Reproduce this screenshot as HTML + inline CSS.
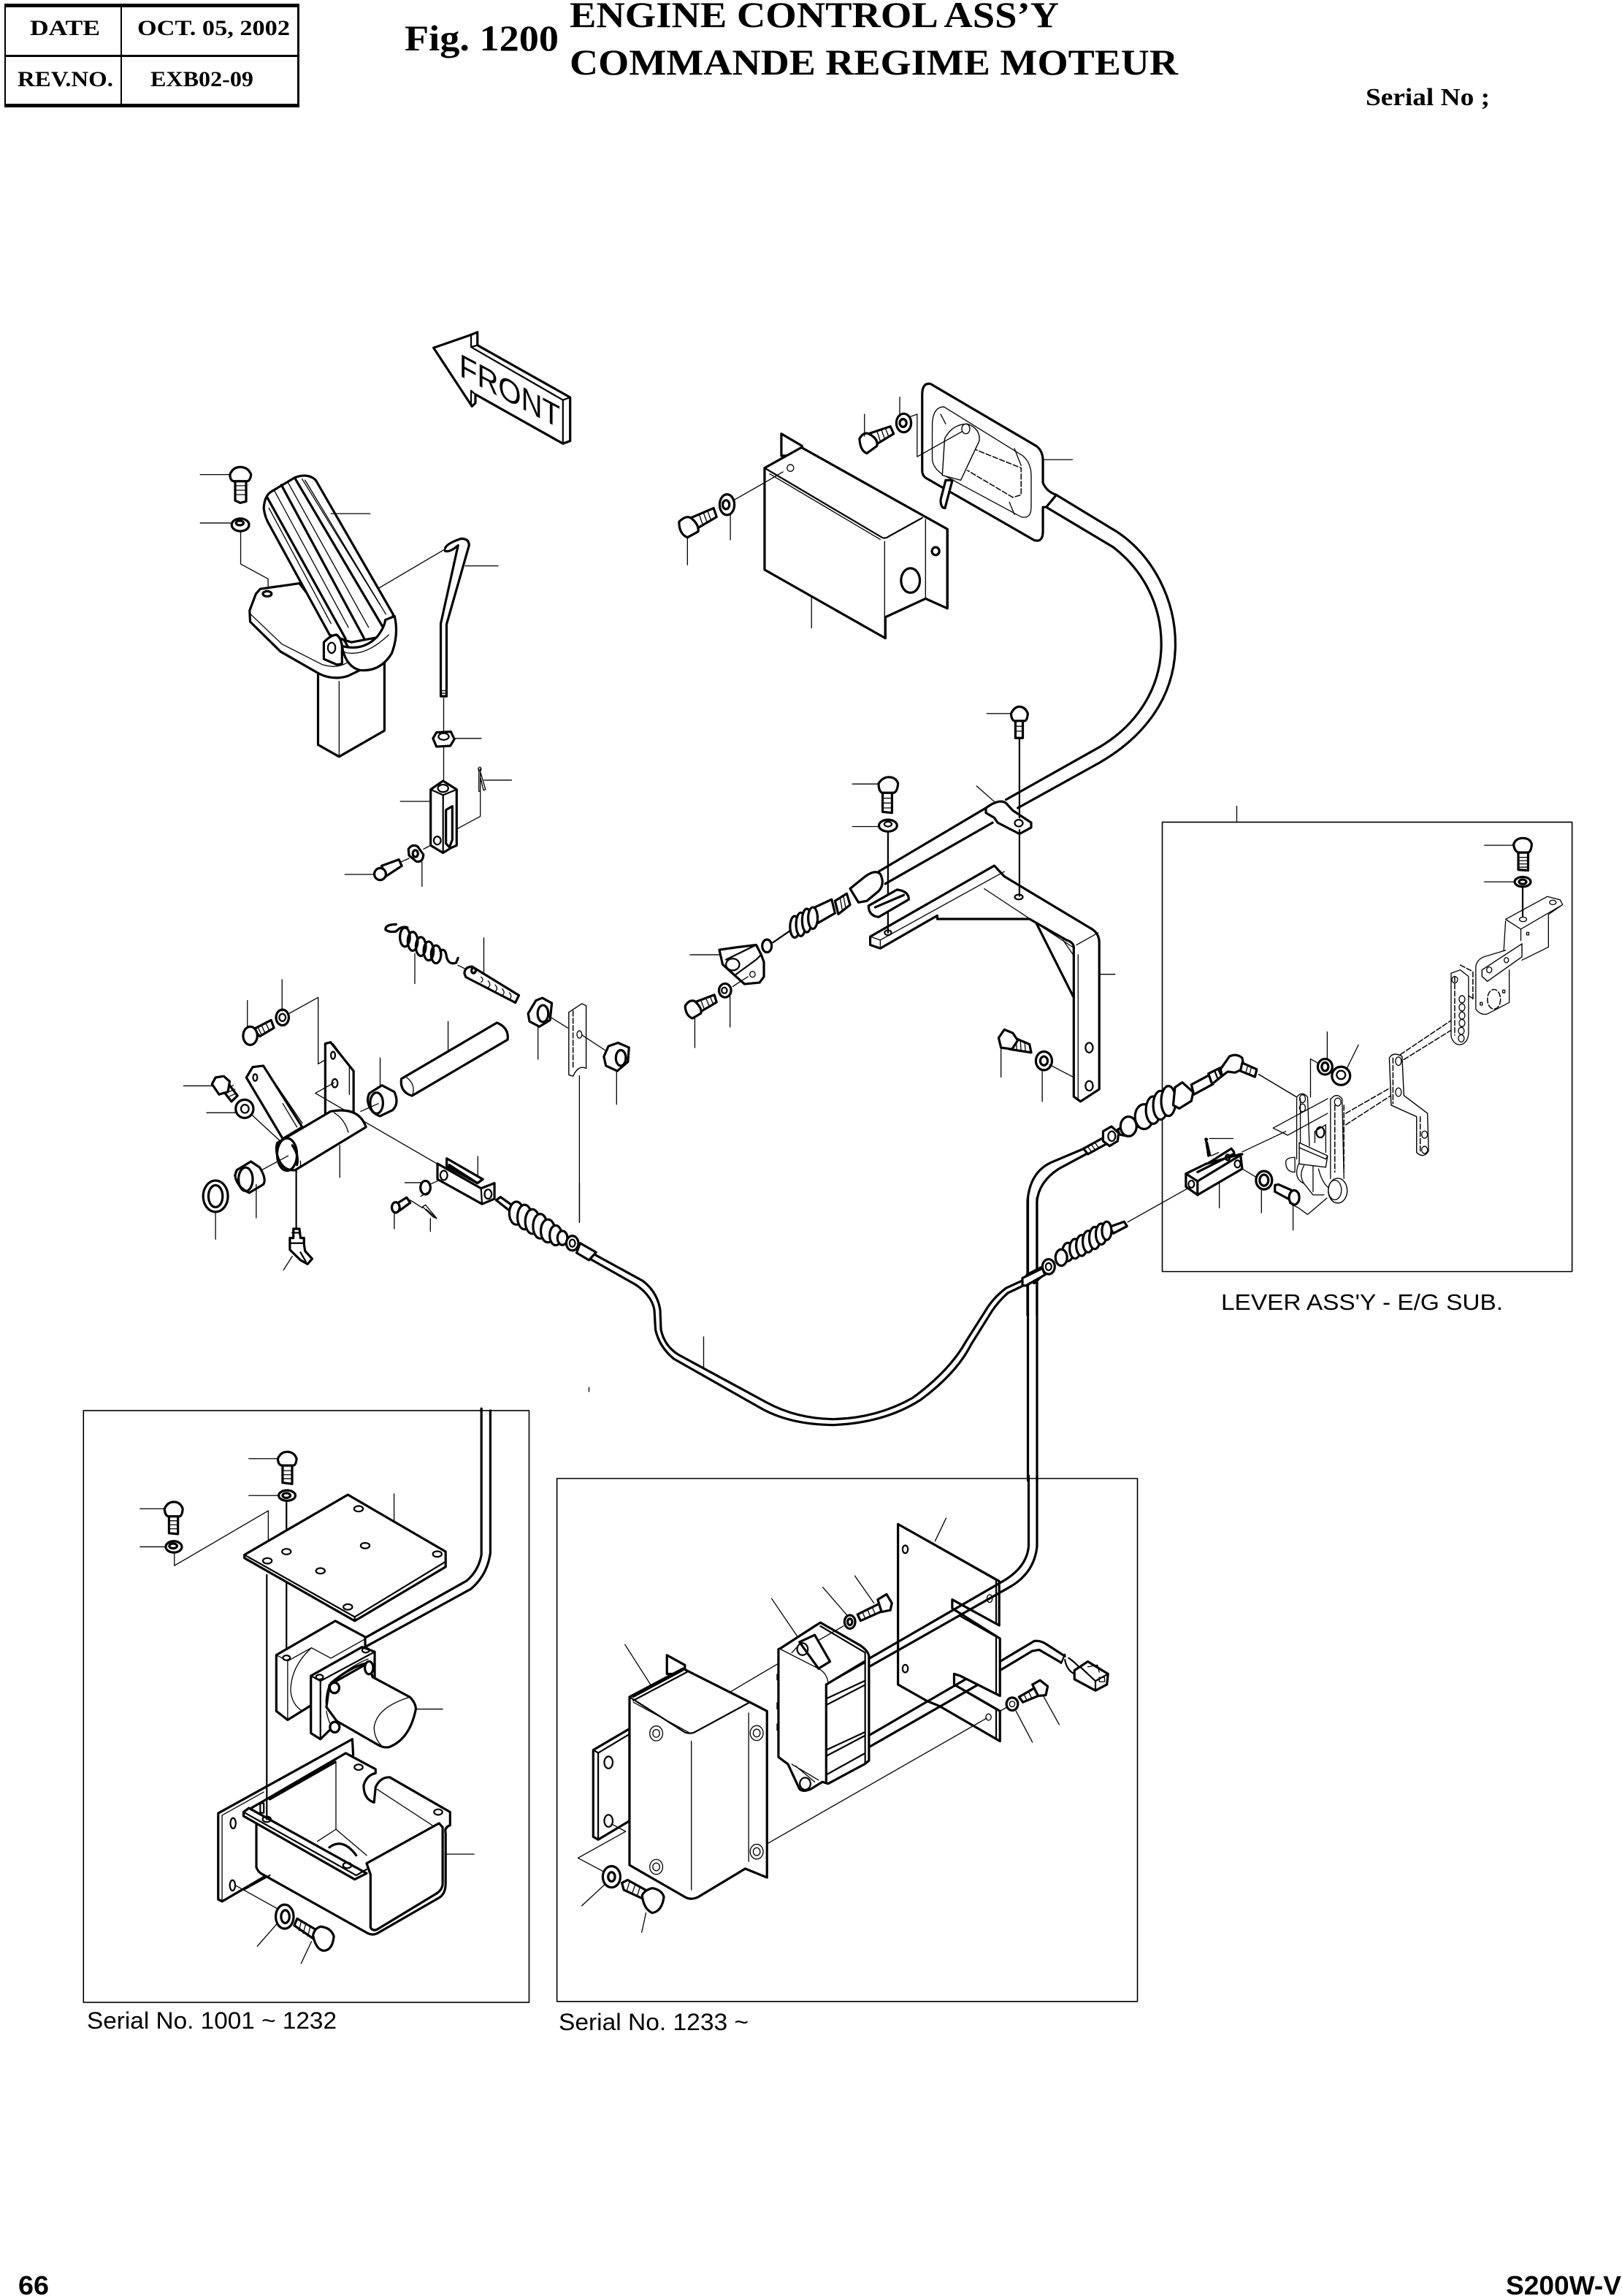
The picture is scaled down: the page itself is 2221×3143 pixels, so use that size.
<!DOCTYPE html>
<html><head><meta charset="utf-8"><title>Fig. 1200 Engine Control Ass'y</title>
<style>
html,body{margin:0;padding:0;background:#fff}
svg{display:block}
svg *{vector-effect:non-scaling-stroke}
path,line,ellipse,rect,polyline,polygon{stroke:#000;fill:none;stroke-linejoin:round;stroke-linecap:round}
.a{fill:#fff;stroke-width:3.2}
.b{stroke-width:3.2}
.m{stroke-width:2.2}
.t{stroke-width:1.3}
.w{fill:#fff;stroke-width:1.4}
.k{fill:#000;stroke:none}
.d{stroke-width:1.5;stroke-dasharray:7 3}
text{fill:#000}
.s{font-family:"Liberation Serif",serif;font-weight:bold}
.n{font-family:"Liberation Sans",sans-serif}
</style></head><body>
<svg xmlns="http://www.w3.org/2000/svg" width="2221" height="3143" viewBox="0 0 2221 3143">
<rect x="0" y="0" width="2221" height="3143" style="fill:#fff;stroke:none"/>

<!-- header table -->
<rect class="k" x="6" y="5" width="404" height="5"/>
<rect class="k" x="6" y="142" width="404" height="5"/>
<rect class="k" x="6" y="75" width="404" height="3"/>
<rect class="k" x="6" y="5" width="2" height="142"/>
<rect class="k" x="407" y="5" width="3" height="142"/>
<rect class="k" x="165" y="5" width="2" height="142"/>
<text class="s" x="41" y="48" font-size="30" textLength="96" lengthAdjust="spacingAndGlyphs">DATE</text>
<text class="s" x="188" y="48" font-size="30" textLength="209" lengthAdjust="spacingAndGlyphs">OCT. 05, 2002</text>
<text class="s" x="24" y="118" font-size="30" textLength="131" lengthAdjust="spacingAndGlyphs">REV.NO.</text>
<text class="s" x="206" y="118" font-size="30" textLength="141" lengthAdjust="spacingAndGlyphs">EXB02-09</text>
<text class="s" x="554" y="69" font-size="50" textLength="211" lengthAdjust="spacingAndGlyphs">Fig. 1200</text>
<text class="s" x="780" y="37" font-size="50" textLength="670" lengthAdjust="spacingAndGlyphs">ENGINE CONTROL ASS’Y</text>
<text class="s" x="780" y="102" font-size="50" textLength="833" lengthAdjust="spacingAndGlyphs">COMMANDE REGIME MOTEUR</text>
<text class="s" x="1870" y="144" font-size="34" textLength="170" lengthAdjust="spacingAndGlyphs">Serial No ;</text>
<text class="n" font-weight="bold" x="25" y="3141" font-size="36" textLength="42" lengthAdjust="spacingAndGlyphs">66</text>
<text class="n" font-weight="bold" x="2062" y="3141" font-size="36" textLength="158" lengthAdjust="spacingAndGlyphs">S200W-V</text>

<!-- Z9: long lower cable -->
<g transform="translate(780,1620) scale(.5,.33333)">
<path class="b" d="M60,285 L200,400 Q240,445 248,520 L250,600 Q260,670 300,705 L540,900 Q620,965 720,968 Q840,965 940,880 Q1040,770 1085,650 L1140,520 Q1160,470 1195,430 L1260,385"/>
<path class="b" d="M50,305 L180,415 Q225,460 232,520 L235,600 Q245,670 285,720 L520,920 Q600,990 720,992 Q860,985 960,890 Q1060,780 1100,660 L1150,540 Q1170,490 1200,450 L1270,400"/>
<line class="t" x1="367" y1="630" x2="367" y2="755"/>
<line class="t" x1="27" y1="0" x2="27" y2="160"/>
<line class="t" x1="53" y1="838" x2="53" y2="855"/>
<line class="b" x1="1255" y1="60" x2="1255" y2="1220"/>
<line class="b" x1="1280" y1="60" x2="1280" y2="1220"/>
<path class="a" d="M1252,375 L1290,345 L1305,365 L1272,410 Z"/>
</g>

<!-- Z2: pedal group -->
<g transform="translate(220,420) scale(.39541,.51020)">
<!-- FRONT arrow -->
<path class="a" d="M945,110 L1075,75 L1097,68 L1097,103 L1418,243 L1418,360 L1393,367 L1090,235 L1090,258 L1078,267 Z"/>
<path class="m" d="M1075,75 L1075,108 L1393,250 L1393,365 M1075,108 L1097,103 M1393,250 L1418,243 M1075,225 L1075,265 M1075,225 L1090,235"/>
<!-- bolt + washer -->
<line class="t" x1="137" y1="450" x2="240" y2="450"/>
<path class="a" d="M258,465 L258,520 L276,526 L296,522 L296,465 Z"/>
<path class="t" d="M258,480 L296,480 M258,492 L296,492 M258,504 L296,504"/>
<path class="a" d="M240,450 Q250,430 275,430 Q303,430 313,450 Q310,468 298,468 L252,468 Q240,465 240,450 Z"/>
<line class="t" x1="137" y1="580" x2="245" y2="580"/>
<ellipse class="a" cx="276" cy="585" rx="30" ry="17"/>
<ellipse class="b" cx="274" cy="580" rx="13" ry="6"/>
<path class="t" d="M277,605 L277,690 L372,730 L372,770"/>
<!-- leg -->
<path class="a" d="M545,975 L545,1175 L618,1207 L775,1137 L775,950 Z"/>
<line class="t" x1="618" y1="1005" x2="618" y2="1207"/>
<!-- base plate -->
<path class="a" d="M480,742 L345,757 L330,770 L308,815 L310,845 L415,925 L550,985 Q600,1003 650,990 L690,975 L640,900 Z"/>
<path class="t" d="M312,825 L420,905 L560,960 Q610,972 645,955"/>
<ellipse class="b" cx="369" cy="770" rx="15" ry="7"/>
<!-- pedal -->
<path class="a" d="M357,540 Q360,505 385,495 L465,458 Q510,445 537,465 L805,825 L800,880 L660,900 L585,880 L380,590 Q360,565 357,540 Z"/>
<path class="b" d="M368,510 L640,890 M418,478 L705,890 M465,460 L770,860"/>
<path class="t" d="M395,495 L650,860 M440,470 L720,860 M500,465 L780,825 M375,540 L590,850 M490,462 L760,800"/>
<path class="a" d="M810,830 Q825,880 800,930 Q760,980 690,975 Q640,965 628,910 Q700,925 750,885 Q775,860 778,840 Z"/>
<path class="t" d="M630,925 Q700,945 790,880"/>
<path class="a" d="M565,900 Q590,880 610,880 Q625,890 628,910 L628,958 L610,960 L565,945 Z"/>
<ellipse class="m" cx="592" cy="915" rx="13" ry="14"/>
<line class="t" x1="590" y1="555" x2="725" y2="555"/>
<!-- rod -->
<line class="t" x1="755" y1="755" x2="985" y2="650"/>
<path class="b" d="M985,648 Q990,635 1040,622 Q1068,622 1068,640 L990,852 L990,1045 M985,655 Q1000,660 1030,640 L970,850 L970,1045 L990,1045"/>
<path class="t" d="M970,1030 L990,1030 M970,1037 L990,1037"/>
<line class="t" x1="1055" y1="695" x2="1168" y2="695"/>
<line class="t" x1="980" y1="1050" x2="980" y2="1140"/>
<path class="a" d="M943,1158 L955,1142 L1005,1140 L1017,1160 L1003,1178 L955,1180 Z"/>
<ellipse class="m" cx="980" cy="1153" rx="18" ry="9"/>
<line class="t" x1="1015" y1="1158" x2="1110" y2="1158"/>
<line class="t" x1="980" y1="1180" x2="980" y2="1275"/>
<!-- clevis -->
<path class="a" d="M935,1295 L978,1272 L1025,1295 L1025,1445 L1005,1452 L978,1465 L935,1445 Z"/>
<path class="m" d="M935,1295 L978,1310 L1025,1295 M978,1310 L978,1465"/>
<path class="b" d="M988,1350 L1010,1340 L1010,1430 L1000,1450 L988,1440 Z"/>
<ellipse class="m" cx="978" cy="1292" rx="18" ry="10"/>
<ellipse class="m" cx="958" cy="1432" rx="12" ry="11"/>
<line class="t" x1="830" y1="1327" x2="935" y2="1327"/>
<path class="t" d="M1102,1240 L1102,1300 L1107,1300 L1107,1240 M1106,1245 L1125,1295 L1118,1297 L1108,1265 M1120,1270 L1215,1270 M1107,1300 L1107,1367 L1028,1400"/>
<ellipse class="t" cx="1105" cy="1240" rx="5" ry="5"/>
<line class="t" x1="935" y1="1445" x2="910" y2="1455"/>
<path class="a" d="M858,1455 Q870,1440 890,1448 L910,1470 Q908,1492 885,1488 L860,1472 Z"/>
<ellipse class="b" cx="882" cy="1467" rx="9" ry="9"/>
<line class="t" x1="905" y1="1490" x2="905" y2="1555"/>
<line class="t" x1="830" y1="1490" x2="860" y2="1480"/>
<path class="a" d="M765,1500 L825,1483 L835,1500 L780,1528 Z"/>
<ellipse class="a" cx="760" cy="1522" rx="20" ry="16"/>
<line class="t" x1="638" y1="1523" x2="740" y2="1523"/>
</g>

<!-- Z3: lower left pivot group -->
<g transform="translate(220,1200) scale(.48469,.35714)">
<!-- spring -->
<path class="b" d="M665,183 Q635,183 635,203 Q645,215 665,210 Q680,188 697,195"/>
<ellipse class="b" cx="690" cy="232" rx="14" ry="36"/>
<ellipse class="b" cx="712" cy="248" rx="14" ry="36"/>
<ellipse class="b" cx="735" cy="268" rx="14" ry="36"/>
<ellipse class="b" cx="757" cy="285" rx="14" ry="36"/>
<ellipse class="b" cx="778" cy="298" rx="14" ry="34"/>
<path class="b" d="M790,285 Q805,270 808,310 Q815,340 835,330 L840,312"/>
<line class="t" x1="718" y1="295" x2="718" y2="410"/>
<line class="t" x1="840" y1="340" x2="858" y2="352"/>
<!-- threaded rod -->
<path class="a" d="M858,370 Q860,345 880,345 L1012,455 L1002,483 L862,385 Z"/>
<ellipse class="b" cx="884" cy="360" rx="6" ry="10"/>
<path class="t" d="M905,385 Q915,395 905,405 M925,400 Q935,415 925,425 M945,415 Q955,430 945,440 M965,430 Q975,445 965,455 M985,445 Q995,460 985,470"/>
<line class="t" x1="913" y1="235" x2="913" y2="375"/>
<!-- nut 1 -->
<path class="a" d="M1038,525 L1060,475 L1078,465 L1105,485 L1100,550 L1070,575 L1042,555 Z"/>
<ellipse class="b" cx="1080" cy="525" rx="15" ry="32"/>
<line class="t" x1="1066" y1="578" x2="1066" y2="700"/>
<line class="t" x1="1097" y1="535" x2="1150" y2="580"/>
<!-- link strip -->
<path class="w" d="M1153,520 L1190,487 L1202,495 L1202,735 Q1180,720 1165,765 L1153,760 Z"/>
<line class="d" x1="1165" y1="515" x2="1165" y2="730" style="fill:none"/>
<ellipse class="t" cx="1183" cy="605" rx="7" ry="14"/>
<line class="t" x1="1190" y1="607" x2="1255" y2="665"/>
<!-- nut 2 -->
<path class="a" d="M1252,690 L1265,650 L1292,637 L1323,655 L1320,710 L1290,745 L1258,725 Z"/>
<ellipse class="b" cx="1300" cy="695" rx="14" ry="30"/>
<line class="t" x1="1288" y1="745" x2="1288" y2="873"/>
<line class="t" x1="1183" y1="763" x2="1183" y2="1325"/>
<!-- long pipe -->
<path class="a" d="M680,775 L950,560 Q985,580 980,625 L710,840 Q675,825 680,775 Z"/>
<path class="t" d="M695,770 Q720,795 712,835"/>
<line class="t" x1="812" y1="555" x2="812" y2="670"/>
<!-- bush -->
<path class="a" d="M590,830 L625,800 L660,825 Q675,870 655,895 L620,918 Q590,905 585,860 Q585,840 590,830 Z"/>
<ellipse class="b" cx="610" cy="868" rx="18" ry="40"/>
<line class="t" x1="620" y1="695" x2="620" y2="800"/>
<!-- bolt top -->
<line class="t" x1="245" y1="475" x2="245" y2="575"/>
<path class="a" d="M262,585 L312,550 L320,580 L280,612 Z"/>
<path class="t" d="M285,570 L295,600 M297,562 L307,590 M275,578 L285,606"/>
<ellipse class="a" cx="253" cy="610" rx="20" ry="35"/>
<ellipse class="a" cx="344" cy="540" rx="18" ry="30"/>
<ellipse class="m" cx="344" cy="540" rx="9" ry="14"/>
<line class="t" x1="343" y1="395" x2="343" y2="515"/>
<path class="t" d="M360,527 L445,463 L445,718 L480,690"/>
<!-- plate -->
<path class="a" d="M465,640 L480,635 L545,745 L545,965 L533,985 L533,900 L465,910 Z"/>
<path class="t" d="M487,640 L533,725 L533,835"/>
<ellipse class="m" cx="487" cy="685" rx="6" ry="14"/>
<ellipse class="m" cx="492" cy="792" rx="8" ry="16"/>
<path class="t" d="M437,830 L490,790 M437,830 L780,1100"/>
<!-- arm -->
<path class="a" d="M345,1005 L242,770 L260,730 L290,725 L400,960 Z"/>
<path class="t" d="M300,745 L400,945 M345,870 L385,960"/>
<ellipse class="m" cx="267" cy="770" rx="6" ry="13"/>
<!-- tube body -->
<path class="a" d="M330,1020 L480,900 Q560,880 580,960 L380,1125 Q340,1130 328,1060 Q325,1035 330,1020 Z"/>
<ellipse class="b" cx="357" cy="1065" rx="28" ry="62"/>
<path class="t" d="M490,905 Q520,930 530,980"/>
<path class="b" d="M372,1030 Q392,1070 385,1105" />
<line class="t" x1="506" y1="1030" x2="506" y2="1153"/>
<line class="t" x1="395" y1="1090" x2="395" y2="1115"/>
<path class="t" d="M360,1070 L285,1125 M565,900 L615,870"/>
<!-- bolt left -->
<line class="t" x1="65" y1="802" x2="145" y2="802"/>
<path class="a" d="M170,810 L195,800 L217,840 L200,862 Z"/>
<path class="t" d="M180,815 L205,800 M188,828 L210,815 M195,842 L215,830"/>
<path class="a" d="M145,795 L155,770 L178,765 L195,785 L190,825 L165,835 Z"/>
<line class="t" x1="130" y1="905" x2="215" y2="905"/>
<ellipse class="a" cx="237" cy="890" rx="25" ry="35"/>
<ellipse class="m" cx="238" cy="890" rx="11" ry="16"/>
<line class="t" x1="255" y1="910" x2="335" y2="1010"/>
<!-- lower bush -->
<path class="a" d="M215,1125 L255,1092 L280,1115 Q300,1160 290,1180 L250,1212 Q215,1190 210,1145 Z"/>
<ellipse class="b" cx="240" cy="1160" rx="20" ry="45"/>
<line class="t" x1="270" y1="1180" x2="270" y2="1308"/>
<ellipse class="a" cx="155" cy="1225" rx="35" ry="60"/>
<ellipse class="b" cx="155" cy="1225" rx="20" ry="42"/>
<line class="t" x1="155" y1="1285" x2="155" y2="1390"/>
<!-- grease fitting -->
<line class="m" x1="383" y1="1125" x2="383" y2="1345"/>
<path class="a" d="M375,1350 L392,1350 L395,1385 L405,1385 L405,1410 L408,1435 L428,1465 L415,1485 L395,1470 L365,1430 L365,1385 L375,1385 Z"/>
<path class="m" d="M368,1405 L402,1405 M372,1365 L392,1365 M395,1440 L410,1475"/>
<line class="t" x1="372" y1="1455" x2="347" y2="1508"/>
<!-- yoke -->
<path class="a" d="M808,1080 L910,1160 L895,1175 L808,1110 Z"/>
<path class="a" d="M782,1100 L905,1195 L943,1175 L943,1235 L908,1255 L782,1160 Z"/>
<path class="m" d="M905,1195 L908,1255"/>
<path class="b" d="M815,1105 L895,1175 L910,1160"/>
<ellipse class="m" cx="800" cy="1145" rx="10" ry="18"/>
<ellipse class="m" cx="925" cy="1217" rx="10" ry="18"/>
<line class="t" x1="896" y1="1073" x2="896" y2="1145"/>
<line class="t" x1="690" y1="1173" x2="735" y2="1173"/>
<ellipse class="b" cx="748" cy="1192" rx="14" ry="26"/>
<line class="t" x1="760" y1="1180" x2="785" y2="1165"/>
<path class="t" d="M762,1205 L735,1225 M705,1240 L740,1270"/>
<path class="a" d="M665,1255 L695,1230 L705,1250 L675,1280 Z"/>
<ellipse class="a" cx="664" cy="1268" rx="11" ry="20"/>
<line class="t" x1="660" y1="1285" x2="660" y2="1350"/>
<path class="t" d="M740,1265 L748,1258 L780,1310 L770,1305 Z M750,1275 L775,1305"/>
<line class="t" x1="762" y1="1310" x2="762" y2="1360"/>
<!-- cable boot -->
<path class="a" d="M948,1240 L960,1228 L995,1262 L985,1280 Z"/>
<ellipse class="a" cx="1005" cy="1290" rx="20" ry="44"/>
<ellipse class="a" cx="1028" cy="1305" rx="20" ry="47"/>
<ellipse class="a" cx="1050" cy="1322" rx="20" ry="47"/>
<ellipse class="a" cx="1072" cy="1340" rx="20" ry="47"/>
<ellipse class="a" cx="1094" cy="1358" rx="20" ry="44"/>
<ellipse class="a" cx="1116" cy="1375" rx="17" ry="38"/>
<ellipse class="a" cx="1135" cy="1385" rx="14" ry="27"/>
<ellipse class="a" cx="1163" cy="1405" rx="17" ry="28"/>
<ellipse class="m" cx="1163" cy="1405" rx="8" ry="14"/>
<path class="a" d="M1185,1405 L1230,1440 L1210,1470 L1175,1442 Z"/>
</g>

<!-- Z4: top centre group -->
<g transform="translate(900,500) scale(.45918,.66964)">
<!-- cover -->
<path class="a" d="M370,185 L370,140 L432,165 L432,185 Z"/>
<path class="a" d="M320,210 L430,168 L800,310 L865,335 L865,497 L800,477 L680,515 L680,558 L320,418 Z"/>
<path class="m" d="M320,210 L670,352 Q680,355 690,350 L790,312"/>
<path class="t" d="M335,222 L665,356 M678,360 L678,515 M800,315 L800,475 M335,205 L432,168"/>
<path class="b" d="M680,515 L680,558 M865,335 L865,497"/>
<ellipse class="b" cx="755" cy="440" rx="28" ry="25"/>
<ellipse class="b" cx="830" cy="380" rx="11" ry="8"/>
<ellipse class="t" cx="397" cy="210" rx="10" ry="7"/>
<line class="t" x1="230" y1="275" x2="320" y2="240"/>
<line class="t" x1="320" y1="240" x2="375" y2="218"/>
<ellipse class="a" cx="208" cy="285" rx="22" ry="21"/>
<ellipse class="b" cx="205" cy="285" rx="10" ry="9"/>
<line class="t" x1="218" y1="305" x2="218" y2="357"/>
<path class="a" d="M100,312 L168,292 L177,310 L115,335 Z"/>
<path class="t" d="M125,305 L135,325 M138,302 L148,320 M150,298 L160,316"/>
<path class="a" d="M65,320 Q85,306 100,312 Q125,325 122,340 L90,352 Q65,345 65,320 Z"/>
<line class="t" x1="90" y1="350" x2="90" y2="408"/>
<line class="t" x1="460" y1="475" x2="460" y2="537"/>
<!-- cable big -->
<path class="b" d="M1160,290 L1360,372 C1450,420 1503,490 1503,570 C1503,660 1430,735 1320,780 L1040,888"/>
<path class="b" d="M1190,265 L1370,340 C1480,390 1545,480 1545,570 C1545,680 1450,760 1320,812 L1075,905"/>
<path class="b" d="M980,905 L660,1035 M1000,935 L680,1060"/>
<!-- top plate -->
<path class="a" d="M790,60 Q790,35 815,38 L1130,165 Q1150,175 1150,195 L1150,240 Q1160,258 1190,265 L1160,290 L1150,290 L1150,340 Q1150,362 1125,358 L800,230 Q790,225 790,215 Z"/>
<path class="t" d="M820,125 Q820,85 855,85 L1090,185 Q1115,200 1115,225 L1115,290 Q1115,315 1085,310 L855,225 Q820,210 820,190 Z"/>
<path class="d" d="M940,170 L1085,210 L1085,265 L1060,270 L925,215"/>
<path class="w" d="M857,150 Q880,120 925,120 Q965,130 960,155 L905,235 L850,225 Z"/>
<path class="a" d="M860,235 L845,275 Q845,292 858,292 L880,235 Z"/>
<ellipse class="t" cx="920" cy="130" rx="12" ry="10"/>
<path class="t" d="M845,100 L860,120 M1065,170 L1085,205 M1050,280 L1065,305"/>
<path class="a" d="M630,140 L695,125 L705,140 L645,165 Z"/>
<path class="t" d="M655,134 L665,155 M668,131 L678,150 M680,128 L690,146"/>
<path class="a" d="M603,150 Q615,136 630,140 Q660,150 655,165 L625,180 Q605,175 603,150 Z"/>
<line class="t" x1="618" y1="100" x2="618" y2="145"/>
<ellipse class="a" cx="735" cy="118" rx="22" ry="19"/>
<ellipse class="b" cx="733" cy="118" rx="10" ry="8"/>
<line class="t" x1="723" y1="65" x2="723" y2="100"/>
<path class="t" d="M755,105 L775,100 L775,187 L910,135"/>
<line class="t" x1="1150" y1="193" x2="1238" y2="193"/>
<!-- big bracket -->
<path class="a" d="M635,1168 L1005,1023 L1035,1045 L1290,1150 Q1318,1160 1318,1180 L1318,1480 L1262,1505 L1242,1495 L1242,1190 Q1242,1180 1220,1175 L1110,1132 L835,1132 L835,1125 L665,1192 L635,1185 Z"/>
<path class="t" d="M635,1168 L665,1175 L1035,1035 M665,1175 L665,1192 M975,1070 L1240,1190 M1255,1205 L1255,1500 M1250,1185 L1315,1160 M1210,1175 L1240,1205"/>
<path class="b" d="M1130,1140 L1240,1290"/>
<ellipse class="m" cx="1288" cy="1395" rx="11" ry="10"/>
<ellipse class="m" cx="1288" cy="1473" rx="11" ry="10"/>
<ellipse class="m" cx="1078" cy="1087" rx="12" ry="5"/>
<ellipse class="m" cx="688" cy="1160" rx="10" ry="5"/>
<line class="t" x1="1318" y1="1245" x2="1365" y2="1245"/>
<!-- clamp -->
<path class="a" d="M980,905 Q1020,885 1040,895 L1060,910 L1115,935 L1115,945 L1080,958 L1015,935 L1005,925 L980,915 Z"/>
<ellipse class="m" cx="1078" cy="936" rx="12" ry="7"/>
<line class="t" x1="952" y1="860" x2="1005" y2="892"/>
<!-- bolts -->
<line class="t" x1="983" y1="712" x2="1055" y2="712"/>
<path class="a" d="M1068,725 L1068,762 L1090,762 L1090,725 Z"/>
<path class="t" d="M1068,738 L1090,738 M1068,748 L1090,748"/>
<path class="a" d="M1055,712 Q1065,698 1080,698 Q1097,698 1105,712 Q1103,727 1095,727 L1065,727 Q1056,725 1055,712 Z"/>
<line class="m" x1="1080" y1="765" x2="1080" y2="925"/>
<line class="m" x1="1080" y1="950" x2="1080" y2="1085"/>
<line class="t" x1="582" y1="856" x2="660" y2="856"/>
<path class="a" d="M672,872 L672,913 L700,915 L700,872 Z"/>
<path class="t" d="M672,885 L700,885 M672,895 L700,895 M672,905 L700,905"/>
<path class="a" d="M660,855 Q672,842 690,842 Q712,842 718,855 Q716,872 705,874 L670,874 Q660,870 660,855 Z"/>
<line class="t" x1="582" y1="943" x2="660" y2="943"/>
<ellipse class="a" cx="688" cy="941" rx="27" ry="12"/>
<ellipse class="m" cx="688" cy="938" rx="11" ry="5"/>
<line class="m" x1="688" y1="955" x2="688" y2="1160"/>
<!-- connector -->
<path class="a" d="M630,1105 L715,1072 Q750,1075 750,1092 L660,1128 Q630,1125 630,1105 Z"/>
<path class="b" d="M650,1108 L735,1083"/>
<path class="a" d="M575,1070 L620,1045 Q650,1030 665,1040 Q680,1060 660,1075 L625,1095 L600,1098 Z"/>
<path class="a" d="M530,1095 L565,1080 L575,1103 L540,1122 Z"/>
<path class="t" d="M545,1088 L552,1115 M555,1084 L562,1110"/>
<path class="a" d="M470,1108 L520,1092 L530,1120 L480,1140 Z"/>
<ellipse class="a" cx="410" cy="1148" rx="14" ry="22"/>
<ellipse class="a" cx="428" cy="1143" rx="14" ry="24"/>
<ellipse class="a" cx="446" cy="1135" rx="14" ry="24"/>
<ellipse class="a" cx="464" cy="1130" rx="14" ry="22"/>
<path class="m" d="M345,1180 L398,1155"/>
<ellipse class="a" cx="327" cy="1187" rx="14" ry="13"/>
<!-- small bracket -->
<path class="a" d="M185,1195 L235,1190 L295,1185 L310,1205 L318,1220 L318,1250 L305,1262 L260,1265 L195,1225 Z"/>
<path class="m" d="M205,1215 L295,1185 M235,1245 L295,1215 L310,1205"/>
<ellipse class="m" cx="225" cy="1225" rx="20" ry="12"/>
<ellipse class="t" cx="284" cy="1245" rx="8" ry="6"/>
<line class="t" x1="98" y1="1205" x2="185" y2="1205"/>
<ellipse class="a" cx="202" cy="1278" rx="18" ry="14"/>
<ellipse class="m" cx="200" cy="1278" rx="8" ry="6"/>
<line class="t" x1="217" y1="1290" x2="217" y2="1353"/>
<line class="t" x1="225" y1="1270" x2="270" y2="1250"/>
<path class="a" d="M112,1302 L170,1287 L177,1302 L128,1322 Z"/>
<path class="t" d="M130,1298 L140,1316 M145,1294 L155,1310 M157,1290 L167,1306"/>
<path class="a" d="M83,1310 Q95,1296 112,1300 Q135,1315 130,1325 L105,1335 Q85,1330 83,1310 Z"/>
<line class="t" x1="112" y1="1335" x2="112" y2="1395"/>
<!-- bottom bolt -->
<path class="a" d="M1055,1372 L1110,1388 L1115,1405 L1050,1398 Z"/>
<path class="t" d="M1070,1378 L1072,1400 M1083,1382 L1085,1402 M1096,1385 L1098,1403"/>
<path class="a" d="M1018,1375 L1035,1358 L1060,1365 L1075,1380 L1058,1398 L1025,1395 Z"/>
<line class="t" x1="1025" y1="1395" x2="1025" y2="1455"/>
<ellipse class="a" cx="1153" cy="1422" rx="24" ry="19"/>
<ellipse class="b" cx="1153" cy="1422" rx="11" ry="9"/>
<line class="t" x1="1148" y1="1440" x2="1148" y2="1505"/>
<line class="t" x1="1170" y1="1430" x2="1240" y2="1455"/>
</g>

<!-- Z5: lever assembly -->
<g transform="translate(1400,1100) scale(.49745,.44643)">
<rect x="385" y="57" width="1128" height="1378" class="t" style="stroke-width:1.6"/>
<line class="t" x1="590" y1="8" x2="590" y2="57"/>
<!-- top bracket dashed -->
<path class="t" d="M1330,355 L1445,285 L1480,295 L1487,310 L1448,340 L1448,440 L1375,480 M1330,355 L1372,385 L1487,310 M1372,385 L1372,420 M1330,360 L1325,450"/>
<ellipse class="t" cx="1378" cy="355" rx="10" ry="7"/>
<ellipse class="t" cx="1460" cy="303" rx="9" ry="7"/>
<rect class="t" x="1388" y="395" width="6" height="8"/>
<path class="t" d="M1248,500 Q1250,480 1270,470 L1330,450 M1248,500 L1248,630 Q1260,650 1280,645 L1340,610 L1340,510"/>
<path class="w" d="M1265,510 L1375,430 L1375,470 L1280,545 L1265,530 Z"/>
<ellipse class="t" cx="1285" cy="510" rx="7" ry="9"/>
<ellipse class="t" cx="1332" cy="480" rx="6" ry="8"/>
<ellipse class="d" cx="1298" cy="600" rx="18" ry="30"/>
<rect class="t" x="1322" y="572" width="6" height="8"/>
<rect class="t" x="1260" y="610" width="6" height="8"/>
<path class="d" d="M1205,495 L1240,515 L1240,600"/>
<path class="t" d="M1180,520 L1205,510 L1228,530 L1228,700 Q1228,730 1210,738 Q1190,745 1180,715 Z"/>
<path class="d" d="M1190,530 L1190,710 M1228,590 L1245,600"/>
<ellipse class="t" cx="1190" cy="540" rx="8" ry="10"/>
<ellipse class="t" cx="1210" cy="600" rx="8" ry="11"/>
<ellipse class="t" cx="1210" cy="625" rx="8" ry="11"/>
<ellipse class="t" cx="1210" cy="650" rx="8" ry="11"/>
<ellipse class="t" cx="1210" cy="673" rx="8" ry="11"/>
<ellipse class="t" cx="1208" cy="697" rx="8" ry="11"/>
<ellipse class="t" cx="1208" cy="720" rx="8" ry="11"/>
<path class="d" d="M1040,770 L1180,665 M1050,785 L1180,695 M890,950 L1015,870 M890,985 L1015,895"/>
<path class="w" d="M1010,780 Q1020,760 1045,775 L1050,895 L1115,950 L1118,1065 Q1105,1090 1085,1070 L1085,960 L1015,925 Z"/>
<path class="d" d="M1020,780 L1020,920 M1095,960 L1095,1070"/>
<ellipse class="t" cx="1035" cy="790" rx="8" ry="13"/>
<ellipse class="t" cx="1035" cy="885" rx="8" ry="13"/>
<ellipse class="t" cx="1107" cy="1015" rx="8" ry="11"/>
<ellipse class="t" cx="1107" cy="1062" rx="8" ry="11"/>
<!-- lower frame -->
<path class="t" d="M725,1100 Q725,1085 750,1085 L750,1130 Q725,1130 725,1100 Z"/>
<path class="t" d="M760,1105 Q745,1150 775,1165 L800,1200 L830,1200 M800,1110 L800,1190 M815,1120 Q825,1165 845,1180 M775,1110 Q760,1140 775,1165"/>
<path class="t" d="M760,1240 L785,1260 L838,1210 M735,1225 L760,1240"/>
<path class="w" d="M762,1040 L840,1080 L835,1115 L762,1105 Z"/>
<path class="t" d="M762,1055 L835,1090 L840,1080"/>
<path class="t" d="M755,900 Q770,880 785,900 L790,1050 M755,900 L755,1090 M765,905 L765,1040"/>
<ellipse class="t" cx="771" cy="905" rx="8" ry="12"/>
<ellipse class="t" cx="771" cy="933" rx="8" ry="12"/>
<path class="t" d="M850,905 Q865,885 880,905 L885,1150 M848,905 L848,1150"/>
<path class="d" d="M860,925 L860,1130 M885,925 L885,1130"/>
<ellipse class="t" cx="868" cy="915" rx="9" ry="12"/>
<ellipse class="w" cx="868" cy="1187" rx="26" ry="38"/>
<ellipse class="t" cx="860" cy="1185" rx="18" ry="30"/>
<path class="t" d="M805,1040 L805,1005 L835,985 L835,1070"/>
<ellipse class="m" cx="820" cy="1008" rx="11" ry="16"/>
<path class="t" d="M690,995 L840,905 M690,995 L730,1017 L840,950 M605,1068 L725,1005"/>
<path class="t" d="M650,830 L755,900"/>
<path class="t" d="M793,783 L820,800 M793,783 L793,900"/>
<ellipse class="a" cx="833" cy="807" rx="20" ry="24"/>
<ellipse class="b" cx="833" cy="807" rx="9" ry="13"/>
<ellipse class="a" cx="877" cy="835" rx="25" ry="28"/>
<ellipse class="m" cx="877" cy="832" rx="12" ry="13"/>
<line class="t" x1="839" y1="700" x2="839" y2="785"/>
<line class="t" x1="925" y1="740" x2="893" y2="812"/>
<!-- top bolt -->
<line class="t" x1="1272" y1="128" x2="1352" y2="128"/>
<path class="a" d="M1365,150 L1365,203 L1392,205 L1392,150 Z"/>
<path class="t" d="M1365,165 L1392,165 M1365,175 L1392,175 M1365,185 L1392,185 M1365,195 L1392,195"/>
<path class="a" d="M1352,125 Q1358,106 1377,106 Q1398,106 1402,125 Q1400,148 1392,150 L1365,150 Q1354,145 1352,125 Z"/>
<line class="t" x1="1272" y1="240" x2="1355" y2="240"/>
<ellipse class="a" cx="1377" cy="240" rx="22" ry="15"/>
<ellipse class="b" cx="1377" cy="240" rx="10" ry="7"/>
<line class="m" x1="1377" y1="255" x2="1377" y2="345"/>
<!-- upper cable -->
<path class="b" d="M14,1568 L14,1220 Q20,1130 80,1100 L165,1060 M40,1568 L40,1220 Q45,1160 100,1120 L175,1075"/>
<path class="a" d="M168,1058 L222,1025 L232,1043 L180,1075 Z"/>
<path class="t" d="M180,1052 L190,1068 M190,1046 L200,1062 M200,1040 L210,1056"/>
<path class="a" d="M222,1005 L245,990 L265,1010 L262,1035 L240,1050 L222,1035 Z"/>
<ellipse class="m" cx="246" cy="1020" rx="10" ry="15"/>
<path class="a" d="M262,1000 L300,975 L325,950 L340,975 L305,1000 L290,1020 L268,1015 Z"/>
<ellipse class="a" cx="292" cy="990" rx="22" ry="30"/>
<ellipse class="a" cx="335" cy="960" rx="25" ry="38"/>
<ellipse class="a" cx="360" cy="940" rx="20" ry="42"/>
<ellipse class="a" cx="380" cy="925" rx="20" ry="44"/>
<ellipse class="a" cx="402" cy="912" rx="20" ry="46"/>
<path class="a" d="M420,870 L440,855 L470,885 L465,912 L432,935 L415,925 Z"/>
<path class="a" d="M465,862 L515,832 L525,860 L472,892 Z"/>
<path class="a" d="M512,828 L545,810 L550,835 L522,860 Z"/>
<path class="m" d="M530,822 L538,845 M540,818 L548,838"/>
<path class="a" d="M545,815 L570,775 Q590,765 605,780 L610,812 L585,825 L565,822 L550,835 Z"/>
<path class="a" d="M605,795 L645,815 L640,838 L600,820 Z"/>
<path class="t" d="M620,805 L615,825 M630,810 L625,830"/>
<line class="t" x1="650" y1="830" x2="755" y2="900"/>
<!-- yoke -->
<path class="a" d="M480,1125 L575,1058 L582,1068 L585,1085 L510,1135 L480,1140 Z"/>
<path class="a" d="M450,1135 L505,1105 L600,1075 L605,1120 L482,1200 L450,1175 Z"/>
<path class="b" d="M482,1130 L580,1075 M450,1135 L482,1158 L482,1200 M482,1158 L605,1075"/>
<ellipse class="m" cx="592" cy="1105" rx="8" ry="11"/>
<ellipse class="m" cx="565" cy="1085" rx="6" ry="9"/>
<ellipse class="m" cx="465" cy="1167" rx="8" ry="11"/>
<path class="b" d="M505,1028 L512,1080"/>
<ellipse class="k" cx="506" cy="1030" rx="5" ry="5"/>
<path class="b" d="M508,1040 L516,1078"/>
<line class="t" x1="515" y1="1027" x2="580" y2="1027"/>
<line class="t" x1="520" y1="1080" x2="540" y2="1070"/>
<line class="t" x1="542" y1="1165" x2="542" y2="1240"/>
<line class="t" x1="605" y1="1120" x2="650" y2="1150"/>
<ellipse class="a" cx="665" cy="1155" rx="22" ry="28"/>
<ellipse class="b" cx="665" cy="1155" rx="12" ry="17"/>
<line class="t" x1="658" y1="1180" x2="658" y2="1255"/>
<path class="a" d="M695,1170 L705,1168 L760,1195 L745,1220 L695,1190 Z"/>
<ellipse class="a" cx="748" cy="1208" rx="14" ry="22"/>
<line class="t" x1="745" y1="1225" x2="745" y2="1308"/>
<!-- lower boot -->
<line class="t" x1="290" y1="1283" x2="455" y2="1180"/>
<path class="a" d="M240,1298 L280,1282 L288,1296 L250,1318 Z"/>
<ellipse class="a" cx="125" cy="1375" rx="15" ry="28"/>
<ellipse class="a" cx="145" cy="1365" rx="15" ry="30"/>
<ellipse class="a" cx="163" cy="1355" rx="15" ry="32"/>
<ellipse class="a" cx="181" cy="1343" rx="15" ry="33"/>
<ellipse class="a" cx="199" cy="1332" rx="15" ry="34"/>
<ellipse class="a" cx="217" cy="1320" rx="15" ry="32"/>
<ellipse class="a" cx="232" cy="1310" rx="13" ry="28"/>
<ellipse class="a" cx="107" cy="1392" rx="16" ry="25"/>
<ellipse class="a" cx="72" cy="1420" rx="17" ry="23"/>
<ellipse class="m" cx="72" cy="1420" rx="8" ry="11"/>
<path class="a" d="M0,1455 L55,1425 L62,1445 L10,1478 L0,1478 Z"/>
</g>

<!-- text labels (sub views) -->
<text class="n" x="1672" y="1793" font-size="31" textLength="386" lengthAdjust="spacingAndGlyphs">LEVER ASS'Y - E/G SUB.</text>
<text class="n" x="119" y="2777" font-size="32" textLength="342" lengthAdjust="spacingAndGlyphs">Serial No. 1001 ~ 1232</text>
<text class="n" x="765" y="2779" font-size="32" textLength="260" lengthAdjust="spacingAndGlyphs">Serial No. 1233 ~</text>
<text class="n" font-size="42" transform="matrix(1,.53,0,1.05,629,514)" textLength="138" lengthAdjust="spacingAndGlyphs">FRONT</text>

<!-- Z6: left sub view -->
<g transform="translate(100,1920) scale(.40816,.54847)">
<rect x="35" y="20" width="1495" height="1477" class="t" style="stroke-width:1.6"/>
<!-- bolts -->
<line class="t" x1="590" y1="140" x2="687" y2="140"/>
<path class="a" d="M703,155 L703,200 L735,203 L735,155 Z"/>
<path class="t" d="M703,170 L735,170 M703,180 L735,180 M703,190 L735,190"/>
<path class="a" d="M687,140 Q697,123 718,123 Q742,123 750,140 Q748,157 738,157 L700,157 Q688,155 687,140 Z"/>
<line class="t" x1="590" y1="232" x2="690" y2="232"/>
<ellipse class="a" cx="718" cy="232" rx="28" ry="13"/>
<ellipse class="b" cx="716" cy="232" rx="13" ry="6"/>
<line class="m" x1="716" y1="245" x2="716" y2="372"/>
<line class="m" x1="716" y1="450" x2="716" y2="630"/>
<line class="t" x1="225" y1="265" x2="307" y2="265"/>
<path class="a" d="M322,282 L322,326 L352,328 L352,282 Z"/>
<path class="t" d="M322,295 L352,295 M322,305 L352,305 M322,315 L352,315"/>
<path class="a" d="M307,265 Q317,248 338,248 Q360,248 368,265 Q366,284 356,284 L320,284 Q308,282 307,265 Z"/>
<line class="t" x1="225" y1="360" x2="310" y2="360"/>
<ellipse class="a" cx="338" cy="360" rx="27" ry="14"/>
<ellipse class="b" cx="336" cy="358" rx="13" ry="6"/>
<path class="t" d="M340,375 L340,407 L655,270 L655,390"/>
<!-- block + motor -->
<path class="a" d="M682,630 L880,545 L980,585 L980,615 L800,755 L720,792 L682,770 Z"/>
<path class="t" d="M720,645 L800,612 L865,638 L980,590 M720,645 L720,790 M682,630 L720,645"/>
<path class="t" d="M800,612 Q730,660 730,720 Q735,755 770,770"/>
<ellipse class="m" cx="716" cy="637" rx="12" ry="6"/>
<path class="b" d="M1370,15 L1370,380 Q1360,420 1320,445 L985,585 M1400,20 L1400,375 Q1390,430 1335,465 L980,610"/>
<path class="a" d="M798,682 L970,610 L1012,622 L1012,690 L885,800 L830,840 L798,825 Z"/>
<path class="m" d="M798,682 L830,695 L830,840 M830,695 L1012,622"/>
<ellipse class="m" cx="827" cy="685" rx="12" ry="6"/>
<ellipse class="m" cx="982" cy="618" rx="12" ry="6"/>
<path class="a" d="M1005,685 L1130,735 Q1150,750 1150,765 Q1130,840 1060,860 Q1040,862 1025,855 L885,795 L850,760 L860,705 L990,650 Z"/>
<path class="t" d="M1130,735 Q1020,760 1010,810 Q1010,840 1040,860"/>
<path class="b" d="M865,700 Q930,660 985,650 L1005,670"/>
<path class="t" d="M848,750 Q850,700 880,690 Q950,650 990,640 M850,770 Q860,810 880,815"/>
<ellipse class="a" cx="877" cy="712" rx="16" ry="13"/>
<ellipse class="a" cx="993" cy="662" rx="14" ry="16"/>
<ellipse class="a" cx="878" cy="810" rx="16" ry="13"/>
<line class="t" x1="1150" y1="765" x2="1240" y2="765"/>
<!-- plate -->
<path class="a" d="M575,380 L922,230 L1250,372 L1250,410 L945,545 L575,388 Z"/>
<path class="m" d="M575,380 L945,535 L1250,397 M945,535 L945,545"/>
<ellipse class="m" cx="958" cy="265" rx="15" ry="7"/>
<ellipse class="m" cx="652" cy="395" rx="15" ry="7"/>
<ellipse class="m" cx="716" cy="372" rx="15" ry="7"/>
<ellipse class="m" cx="980" cy="357" rx="15" ry="7"/>
<ellipse class="m" cx="830" cy="420" rx="15" ry="7"/>
<ellipse class="m" cx="1222" cy="378" rx="15" ry="7"/>
<ellipse class="m" cx="922" cy="510" rx="15" ry="7"/>
<line class="t" x1="1077" y1="228" x2="1077" y2="295"/>
<!-- box -->
<path class="a" d="M487,1025 L937,840 L940,880 L660,995 L650,1180 L500,1245 L487,1240 Z"/>
<path class="t" d="M500,1030 L500,1243 M500,1030 L640,972"/>
<path class="a" d="M615,1050 L575,1022 L915,875 L1015,915 L1015,925 Q985,930 975,955 Q975,990 1010,998 L1015,960 Q1030,935 1062,935 L1265,1022 L1265,1055 Q1245,1060 1250,1075 L1250,1200 Q1250,1225 1230,1235 L1020,1325 Q1005,1330 990,1325 L630,1175 Q620,1170 615,1160 Z"/>
<path class="t" d="M882,900 L882,1065 M882,1065 L820,1095 M882,1065 L985,1130 M1020,965 L1205,1055"/>
<path class="b" d="M660,990 L880,897 M860,1110 Q905,1085 950,1130"/>
<path class="a" d="M985,1150 L1228,1050 L1240,1060 L1240,1200 Q1240,1215 1220,1225 L1020,1315 Q1005,1320 998,1310 L998,1178 Z"/>
<path class="a" d="M572,1022 L590,1012 L985,1175 L945,1190 L572,1032 Z"/>
<path class="m" d="M572,1022 L950,1180 L985,1165"/>
<path class="b" d="M985,1150 L998,1178"/>
<rect class="m" x="628" y="1000" width="12" height="24"/>
<ellipse class="m" cx="958" cy="910" rx="14" ry="7"/>
<ellipse class="m" cx="1225" cy="1022" rx="14" ry="7"/>
<ellipse class="m" cx="650" cy="1040" rx="14" ry="7"/>
<ellipse class="m" cx="920" cy="1155" rx="14" ry="7"/>
<ellipse class="m" cx="537" cy="1050" rx="9" ry="13"/>
<ellipse class="m" cx="535" cy="1205" rx="9" ry="13"/>
<line class="m" x1="650" y1="430" x2="650" y2="1040"/>
<line class="t" x1="1250" y1="1127" x2="1345" y2="1127"/>
<path class="t" d="M545,1205 L690,1265"/>
<line class="m" x1="660" y1="1180" x2="575" y2="1215"/>
<ellipse class="a" cx="710" cy="1283" rx="30" ry="30"/>
<ellipse class="b" cx="712" cy="1283" rx="14" ry="16"/>
<line class="t" x1="685" y1="1300" x2="618" y2="1357"/>
<path class="a" d="M742,1305 L752,1288 L825,1320 L810,1340 Z"/>
<path class="t" d="M765,1297 L758,1318 M780,1303 L772,1325 M795,1310 L788,1332"/>
<path class="a" d="M805,1330 Q810,1312 830,1308 Q865,1310 875,1332 Q870,1368 840,1368 Q815,1365 805,1330 Z"/>
<line class="t" x1="800" y1="1345" x2="765" y2="1400"/>
</g>

<!-- Z7: right sub view -->
<g transform="translate(760,2020) scale(.52296,.48469)">
<rect x="5" y="8" width="1520" height="1477" class="t" style="stroke-width:1.6"/>
<!-- plates -->
<path class="a" d="M898,137 L1163,298 L1163,423 L1060,362 L1040,350 L1040,375 L1165,460 L1165,622 L1060,565 L1045,560 L1045,590 L1165,665 L1165,750 L1005,650 L975,637 L898,590 Z"/>
<path class="m" d="M898,137 L1155,295 L1155,415 M1058,395 L1155,455 L1155,615 M1075,610 L1155,660 L1155,745"/>
<ellipse class="m" cx="917" cy="208" rx="7" ry="11"/>
<ellipse class="m" cx="917" cy="545" rx="7" ry="11"/>
<ellipse class="t" cx="1138" cy="347" rx="7" ry="11"/>
<ellipse class="t" cx="1135" cy="682" rx="7" ry="9"/>
<line class="t" x1="1024" y1="120" x2="995" y2="185"/>
<!-- tubes -->
<path class="b" d="M1240,0 L1240,200 Q1235,260 1170,300 L825,515 M1262,0 L1262,200 Q1255,275 1190,315 L822,540"/>
<path class="b" d="M1075,575 L820,735 M1105,592 L825,765"/>
<path class="b" d="M1165,525 L1255,467 Q1270,465 1285,475 L1335,510 M1165,550 L1250,495 L1268,492 L1325,528"/>
<path class="m" d="M1335,505 L1325,530 M1335,520 Q1340,550 1360,560 M1345,515 Q1365,530 1375,545"/>
<path class="a" d="M1360,550 L1395,525 L1448,560 L1445,590 L1415,607 L1360,575 Z"/>
<path class="m" d="M1415,580 L1415,607 M1415,580 L1448,560 M1375,540 L1415,580"/>
<rect class="t" x="1425" y="570" width="14" height="12"/>
<path class="t" d="M1395,540 L1420,535 L1425,555"/>
<!-- mounting bolt right -->
<ellipse class="a" cx="1197" cy="645" rx="15" ry="18"/>
<ellipse class="t" cx="1197" cy="645" rx="7" ry="8"/>
<path class="a" d="M1215,625 L1255,600 L1265,622 L1225,640 Z"/>
<path class="t" d="M1228,618 L1236,635 M1240,610 L1248,628"/>
<path class="a" d="M1250,590 L1270,578 L1290,595 L1285,620 L1265,622 Z"/>
<path class="t" d="M1280,625 L1320,703 M1207,665 L1250,753 M1165,665 L1185,653"/>
<!-- long thin -->
<line class="t" x1="555" y1="1040" x2="1130" y2="685"/>
<line class="t" x1="460" y1="610" x2="625" y2="505"/>
<!-- module -->
<path class="a" d="M585,490 L590,488 L680,425 L695,415 L800,480 Q820,495 822,510 L822,805 L810,815 L715,870 L700,865 L670,885 Q650,895 640,885 L610,815 L585,795 Z"/>
<path class="m" d="M695,425 L812,500 L812,810"/>
<path class="b" d="M710,590 L710,865 M710,590 L810,525"/>
<path class="m" d="M710,630 L810,580 M710,648 L810,592 M710,775 L810,725 M710,792 L810,735 M710,845 L810,785"/>
<path class="t" d="M590,490 L690,545 Q715,560 715,590 M720,585 L810,530"/>
<path class="a" d="M640,470 L680,450 L720,525 L690,545 Z"/>
<ellipse class="m" cx="648" cy="490" rx="14" ry="17"/>
<ellipse class="m" cx="655" cy="870" rx="14" ry="17"/>
<path class="t" d="M620,500 L650,465 M620,815 L690,860 M630,820 L680,865"/>
<path class="k" d="M580,560 L588,560 L588,578 L580,578 Z M580,640 L588,640 L588,660 L580,660 Z M580,700 L588,700 L588,720 L580,720 Z"/>
<line class="t" x1="567" y1="347" x2="635" y2="455"/>
<ellipse class="a" cx="772" cy="413" rx="14" ry="19"/>
<ellipse class="b" cx="772" cy="413" rx="6" ry="9"/>
<line class="t" x1="701" y1="315" x2="765" y2="395"/>
<path class="a" d="M792,392 L848,362 L858,382 L800,410 Z"/>
<path class="t" d="M805,385 L812,403 M818,378 L825,396 M830,371 L838,390"/>
<path class="a" d="M845,350 L868,335 L882,360 L878,380 L855,385 Z"/>
<line class="t" x1="785" y1="283" x2="835" y2="360"/>
<line class="t" x1="755" y1="425" x2="690" y2="465"/>
<!-- left bar -->
<path class="a" d="M100,775 L195,715 L195,975 L113,1028 L100,1020 Z"/>
<path class="m" d="M113,783 L113,1028 M113,783 L195,730 M100,775 L113,783"/>
<ellipse class="m" cx="140" cy="810" rx="11" ry="17"/>
<ellipse class="m" cx="140" cy="975" rx="11" ry="17"/>
<!-- box -->
<path class="a" d="M293,560 L293,507 L340,535 L340,560 Z"/>
<path class="a" d="M195,625 L335,545 L510,640 L555,665 L555,1135 L498,1110 L375,1190 Q355,1200 340,1190 L195,1100 Z"/>
<path class="m" d="M195,625 L340,725 Q355,730 365,725 L510,640 M205,625 L335,550 M205,635 L345,555"/>
<path class="t" d="M357,750 L357,1170 M507,670 L507,1090 M205,640 L350,725"/>
<path class="m" d="M195,625 L195,1100 M555,665 L555,1135"/>
<ellipse class="t" cx="265" cy="728" rx="17" ry="21"/>
<ellipse class="t" cx="265" cy="728" rx="9" ry="11"/>
<ellipse class="t" cx="528" cy="727" rx="17" ry="21"/>
<ellipse class="t" cx="528" cy="727" rx="9" ry="11"/>
<ellipse class="t" cx="528" cy="1062" rx="17" ry="21"/>
<ellipse class="t" cx="528" cy="1062" rx="9" ry="11"/>
<ellipse class="t" cx="265" cy="1105" rx="17" ry="21"/>
<ellipse class="t" cx="265" cy="1105" rx="9" ry="11"/>
<line class="t" x1="183" y1="477" x2="250" y2="590"/>
<path class="t" d="M150,985 L185,1005 L60,1080 L130,1120"/>
<ellipse class="a" cx="148" cy="1133" rx="23" ry="30"/>
<ellipse class="b" cx="148" cy="1133" rx="9" ry="13"/>
<line class="t" x1="130" y1="1155" x2="70" y2="1215"/>
<path class="a" d="M175,1150 L190,1142 L240,1172 L230,1195 L180,1170 Z"/>
<path class="t" d="M195,1147 L188,1172 M210,1155 L202,1180 M222,1163 L215,1188"/>
<path class="a" d="M228,1185 Q235,1170 255,1165 Q280,1170 285,1190 Q280,1230 255,1235 Q232,1225 228,1185 Z"/>
<line class="t" x1="238" y1="1235" x2="227" y2="1290"/>
</g>
</svg>
</body></html>
